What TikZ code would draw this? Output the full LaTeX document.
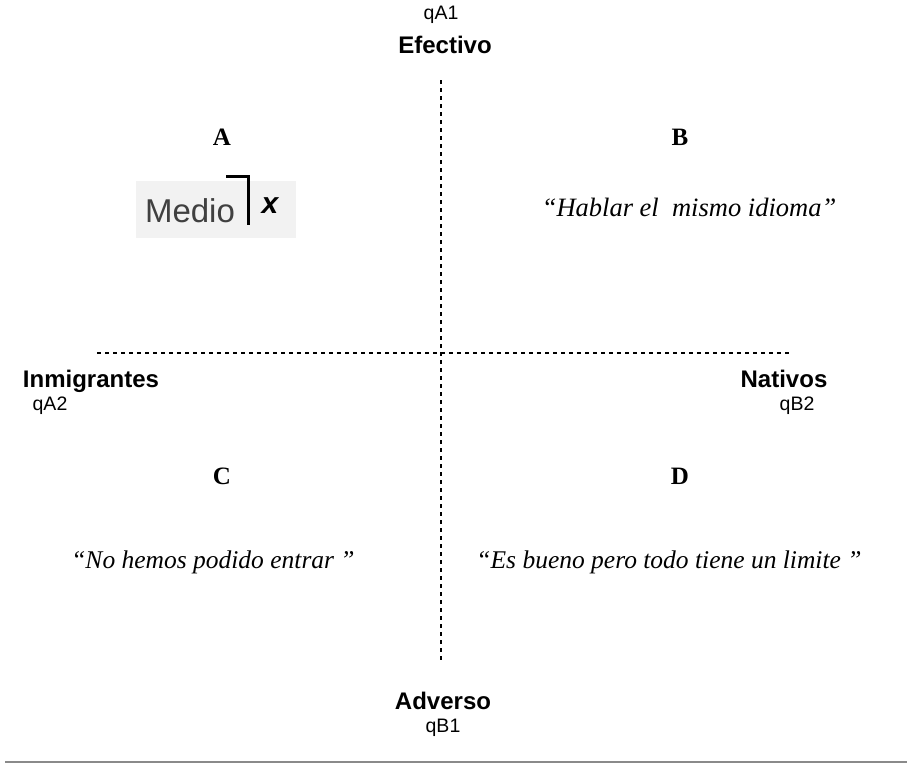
\documentclass[tikz,border=0pt]{standalone}
\usepackage{fontspec}
\setmainfont{Liberation Serif}
\setsansfont{Liberation Sans}
\definecolor{boxgray}{HTML}{F2F2F2}
\definecolor{rulegray}{HTML}{8A8A8A}
\definecolor{textgray}{HTML}{404040}
\tikzset{
  axisline/.style={line width=1.4pt, dash pattern=on 4pt off 4pt},
  polelabel/.style={inner sep=0pt, font=\sffamily\bfseries\fontsize{24}{28}\selectfont},
  codelabel/.style={inner sep=0pt, font=\sffamily\fontsize{19.5}{23}\selectfont},
  quadletter/.style={inner sep=0pt, font=\rmfamily\bfseries\fontsize{25}{30}\selectfont},
  quotetext/.style={inner sep=0pt, font=\rmfamily\itshape\fontsize{25.5}{30}\selectfont},
}
\begin{document}
\begin{tikzpicture}[x=1pt,y=-1pt]
\useasboundingbox (0,0) rectangle (907,764);

% axes
\coordinate (vtop) at (441,80);
\coordinate (vbot) at (441,660);
\coordinate (hleft) at (97,353);
\coordinate (hright) at (792,353);
\draw[axisline] (vtop) -- (vbot);
\draw[axisline] (hleft) -- (hright);

% poles of the axes
\node[codelabel] (qa1) at (441,15) {qA1};
\node[polelabel] (efectivo) at (445,45) {Efectivo};
\node[polelabel] (adverso) at (443,701) {Adverso};
\node[codelabel] (qb1) at (443,728) {qB1};
\node[polelabel] (inmigrantes) at (91,381) {Inmigrantes};
\node[codelabel] (qa2) at (50,406) {qA2};
\node[polelabel] (nativos) at (784,379) {Nativos};
\node[codelabel] (qb2) at (797,406) {qB2};

% quadrant letters
\node[quadletter] (qA) at (222,137) {A};
\node[quadletter] (qB) at (680,137) {B};
\node[quadletter] (qC) at (222,476) {C};
\node[quadletter] (qD) at (680,476) {D};

% quadrant A: highlighted code
\node[fill=boxgray, minimum width=160pt, minimum height=57pt, inner sep=0pt] (medio box) at (216,209) {};
\node[inner sep=0pt, text=textgray, font=\sffamily\fontsize{33}{40}\selectfont] (medio) at (190,211) {Medio};
\coordinate (brA) at (226,176.5);
\coordinate (brB) at (248.5,176.5);
\coordinate (brC) at (248.5,225);
\draw[line width=3pt] (brA) -- (brB) -- (brC);
\node[inner sep=0pt, font=\sffamily\bfseries\itshape\fontsize{30}{36}\selectfont] (markx) at (270,206) {x};

% quotations
\node[quotetext, font=\rmfamily\itshape\fontsize{26.5}{31}\selectfont] (quoteB) at (689,207) {``Hablar el~ mismo idioma''};
\node[quotetext] (quoteC) at (213,562) {``No hemos podido entrar ''};
\node[quotetext] (quoteD) at (669,562) {``Es bueno pero todo tiene un limite ''};

% bottom rule
\coordinate (ruleL) at (5,762);
\coordinate (ruleR) at (907,762);
\draw[rulegray, line width=2pt] (ruleL) -- (ruleR);
\end{tikzpicture}
\end{document}
